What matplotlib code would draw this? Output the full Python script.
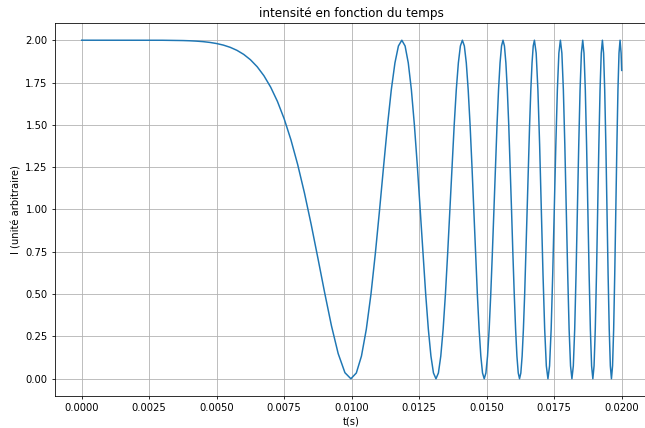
import matplotlib
matplotlib.use("Agg")
import matplotlib.pyplot as plt

# --- data ---
# slow decay from 2 down to the first minimum
t_decay = [0.0, 0.001, 0.002, 0.003, 0.0035, 0.00375, 0.004, 0.00425, 0.0045,
           0.00475, 0.005, 0.00525, 0.0055, 0.00575, 0.006, 0.00625, 0.0065,
           0.00675, 0.007, 0.00725, 0.0075, 0.00775, 0.008, 0.00825, 0.0085,
           0.00875, 0.009, 0.00925, 0.0095, 0.00975]
i_decay = [2.0, 2.0, 2.0, 1.9997, 1.9989, 1.9980, 1.9967, 1.9946, 1.9915,
           1.9869, 1.9803, 1.9710, 1.9580, 1.9402, 1.9163, 1.8846, 1.8432,
           1.7900, 1.7225, 1.6384, 1.5353, 1.4113, 1.2653, 1.0978, 0.9113,
           0.7113, 0.5074, 0.3134, 0.1485, 0.0358]

# first oscillations (wide fringes)
t_osc1 = [
    0.009970, 0.010172, 0.010362, 0.010542, 0.010714, 0.010877, 0.011034, 0.011184, 0.011328, 0.011467, 0.011602, 0.011731,
    0.011857, 0.011978, 0.012096, 0.012211, 0.012322, 0.012431, 0.012537, 0.012640, 0.012741, 0.012839, 0.012935, 0.013029,
    0.013122, 0.013212, 0.013300, 0.013387, 0.013472, 0.013555, 0.013637, 0.013718, 0.013797, 0.013874, 0.013951, 0.014026,
    0.014100, 0.014173, 0.014245, 0.014315, 0.014385, 0.014454, 0.014521, 0.014588, 0.014654, 0.014719, 0.014783, 0.014846,
    0.014909, 0.014971, 0.015032, 0.015092, 0.015151, 0.015210, 0.015268, 0.015326, 0.015383, 0.015439, 0.015495, 0.015550,
    0.015604, 0.015658, 0.015711, 0.015764, 0.015817, 0.015868, 0.015920, 0.015970, 0.016021, 0.016071, 0.016120, 0.016169,
    0.016217, 0.016265, 0.016313, 0.016360, 0.016407, 0.016453, 0.016499, 0.016545, 0.016590, 0.016635, 0.016680, 0.016724,
    0.016768]
i_osc1 = [
    0.0, 0.0341, 0.1340, 0.2929, 0.5, 0.7412, 1.0, 1.2588, 1.5, 1.7071, 1.8660, 1.9659,
    2.0, 1.9659, 1.8660, 1.7071, 1.5, 1.2588, 1.0, 0.7412, 0.5, 0.2929, 0.1340, 0.0341,
    0.0, 0.0341, 0.1340, 0.2929, 0.5, 0.7412, 1.0, 1.2588, 1.5, 1.7071, 1.8660, 1.9659,
    2.0, 1.9659, 1.8660, 1.7071, 1.5, 1.2588, 1.0, 0.7412, 0.5, 0.2929, 0.1340, 0.0341,
    0.0, 0.0341, 0.1340, 0.2929, 0.5, 0.7412, 1.0, 1.2588, 1.5, 1.7071, 1.8660, 1.9659,
    2.0, 1.9659, 1.8660, 1.7071, 1.5, 1.2588, 1.0, 0.7412, 0.5, 0.2929, 0.1340, 0.0341,
    0.0, 0.0341, 0.1340, 0.2929, 0.5, 0.7412, 1.0, 1.2588, 1.5, 1.7071, 1.8660, 1.9659,
    2.0]

# later oscillations (fringes get tighter)
t_osc2 = [
    0.016833, 0.016897, 0.016961, 0.017024, 0.017086, 0.017148, 0.017209, 0.017269,
    0.017329, 0.017388, 0.017446, 0.017504, 0.017561, 0.017618, 0.017674, 0.017730,
    0.017785, 0.017840, 0.017894, 0.017947, 0.018001, 0.018053, 0.018106, 0.018157,
    0.018209, 0.018260, 0.018310, 0.018360, 0.018410, 0.018459, 0.018508, 0.018557,
    0.018605, 0.018653, 0.018700, 0.018747, 0.018794, 0.018840, 0.018886, 0.018932,
    0.018977, 0.019022, 0.019067, 0.019111, 0.019155, 0.019199, 0.019243, 0.019286,
    0.019329, 0.019371, 0.019414, 0.019456, 0.019497, 0.019539, 0.019580, 0.019621,
    0.019662, 0.019703, 0.019743, 0.019783, 0.019823, 0.019862, 0.019901, 0.019940,
    0.019979, 0.020000]
i_osc2 = [
    1.9239, 1.7071, 1.3827, 1.0, 0.6173, 0.2929, 0.0761, 0.0,
    0.0761, 0.2929, 0.6173, 1.0, 1.3827, 1.7071, 1.9239, 2.0,
    1.9239, 1.7071, 1.3827, 1.0, 0.6173, 0.2929, 0.0761, 0.0,
    0.0761, 0.2929, 0.6173, 1.0, 1.3827, 1.7071, 1.9239, 2.0,
    1.9239, 1.7071, 1.3827, 1.0, 0.6173, 0.2929, 0.0761, 0.0,
    0.0761, 0.2929, 0.6173, 1.0, 1.3827, 1.7071, 1.9239, 2.0,
    1.9239, 1.7071, 1.3827, 1.0, 0.6173, 0.2929, 0.0761, 0.0,
    0.0761, 0.2929, 0.6173, 1.0, 1.3827, 1.7071, 1.9239, 2.0,
    1.9239, 1.8217]

x_ticks = [0.0, 0.0025, 0.005, 0.0075, 0.01, 0.0125, 0.015, 0.0175, 0.02]

t = t_decay + t_osc1 + t_osc2
intensity = i_decay + i_osc1 + i_osc2

# reference looks like a 9-inch wide figure shrunk to 645 px
dpi = 645 / 9
fig = plt.figure(figsize=(9, 428 / dpi), dpi=dpi)
# right spine falls just outside the picture, like the reference
ax = fig.add_axes([0.0848, 0.0755, 0.9209, 0.8701])
ax.plot(t, intensity)
ax.set_title("intensité en fonction du temps")
ax.set_xlabel("t(s)")
ax.set_ylabel("I (unité arbitraire)")
ax.set_xticks(x_ticks)
ax.grid(True)

fig.savefig("out.png", dpi=dpi)
